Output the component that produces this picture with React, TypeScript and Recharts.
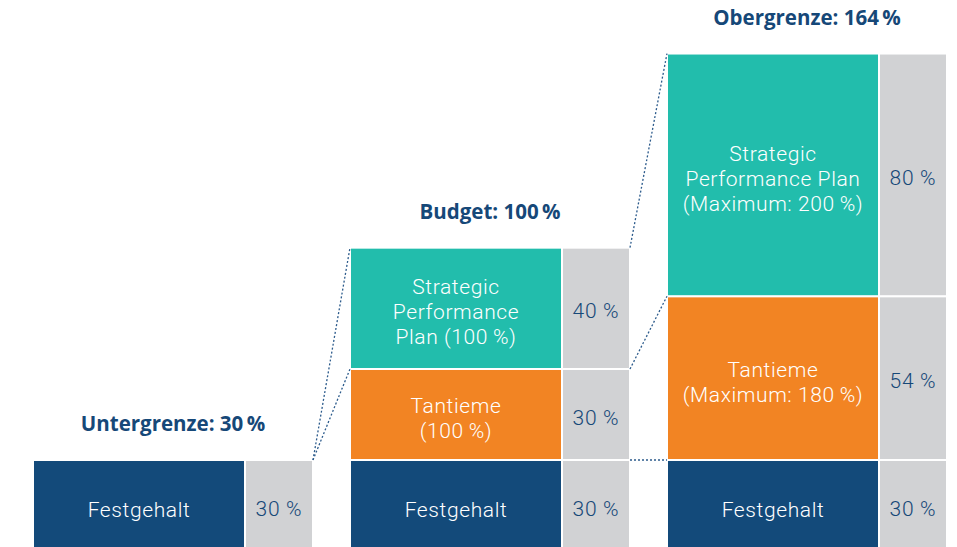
import React from 'react';
import { BarChart, Bar, XAxis, YAxis, LabelList } from 'recharts';

// values in % of target compensation
const groups = ['Untergrenze', 'Budget', 'Obergrenze'];
const titles = ['Untergrenze: 30\u2009%', 'Budget: 100\u2009%', 'Obergrenze: 164\u2009%'];
const festgehalt = [30, 30, 30];
const tantieme = [0, 30, 54];
const spp = [0, 40, 80];
const festLabels = ['Festgehalt', 'Festgehalt', 'Festgehalt'];
const tantiemeLabels = ['', 'Tantieme\n(100\u2009%)', 'Tantieme\n(Maximum: 180\u2009%)'];
const sppLabels = [
  '',
  'Strategic\nPerformance\nPlan (100\u2009%)',
  'Strategic\nPerformance Plan\n(Maximum: 200\u2009%)',
];
// which stack levels get a dotted connector from group i-1 to group i
const connectorLevels = [['Tant', 'Spp'], ['Fest', 'Tant', 'Spp']];

const BLUE = '#134a7a';
const TEAL = '#22bdac';
const ORANGE = '#f28423';
const GREY = '#d1d2d4';
const TEXT_BLUE = '#164878';
const FONT = 'Roboto, sans-serif';
const TITLE_FONT = '"Open Sans", sans-serif';

const data = groups.map((name, i) => ({
  name,
  title: titles[i],
  fest: festgehalt[i],
  tant: tantieme[i],
  spp: spp[i],
  festLabel: festLabels[i],
  tantLabel: tantiemeLabels[i],
  sppLabel: sppLabels[i],
}));

type Box = { x: number; y: number; w: number; h: number };
const boxes: Record<string, Box> = {};

const makeShape = (key: string, fill: string) => (p: any) => {
  boxes[`${key}-${p.index}`] = { x: p.x, y: p.y, w: p.width, h: p.height };
  if (!p.height || p.height <= 0) return <g />;
  return (
    <rect x={p.x} y={p.y} width={p.width} height={p.height} fill={fill} stroke="#fff" strokeWidth={2} />
  );
};

const vb = (props: any) => {
  const v = props.viewBox && props.viewBox.width != null ? props.viewBox : props;
  return { x: +v.x, y: +v.y, width: +v.width, height: +v.height };
};

const multiLine = (props: any) => {
  const { x, y, width, height } = vb(props);
  const value = props.value;
  if (!value || height <= 0) return null;
  const lines = String(value).split('\n');
  const lh = 25;
  const cx = x + width / 2;
  const startY = y + height / 2 + 4 - ((lines.length - 1) * lh) / 2;
  return (
    <text
      textAnchor="middle"
      dominantBaseline="central"
      fill="#fff"
      fontSize={21}
      fontWeight={300}
      letterSpacing={0.6}
      fontFamily={FONT}
    >
      {lines.map((l, i) => (
        <tspan key={i} x={cx} y={startY + i * lh}>
          {l}
        </tspan>
      ))}
    </text>
  );
};

const percentLabel = (props: any) => {
  const { x, y, width, height } = vb(props);
  if (!props.value || height <= 0) return null;
  return (
    <text
      x={x + width / 2}
      y={y + height / 2 + 3}
      textAnchor="middle"
      dominantBaseline="central"
      fill={TEXT_BLUE}
      fontSize={21}
      fontWeight={300}
      letterSpacing={1}
      fontFamily={FONT}
    >
      {`${props.value}\u2009%`}
    </text>
  );
};

const topOf = (key: string, idx: number) => {
  const b = boxes[`${key}-${idx}`];
  return b ? b.y : boxes[`gFest-${idx}`].y;
};

// title above each group plus dotted connectors from the previous group
const titleAndConnectors = (props: any) => {
  const { x, y, width } = vb(props);
  const idx = props.index;
  const col = boxes[`cFest-${idx}`];
  if (!col) return null;
  const right = x + width;
  const top = Math.min(y, topOf('gSpp', idx));
  const lines: any[] = [];
  if (idx > 0) {
    const prev = boxes[`gFest-${idx - 1}`];
    const x1 = prev.x + prev.w;
    (connectorLevels[idx - 1] || []).forEach((lvl) => {
      lines.push(
        <line
          key={lvl}
          x1={x1}
          y1={topOf(`g${lvl}`, idx - 1)}
          x2={col.x}
          y2={topOf(`c${lvl}`, idx)}
          stroke="#2c5b8c"
          strokeWidth={1.3}
          strokeDasharray="2 2"
        />
      );
    });
  }
  return (
    <g>
      {lines}
      <text
        x={(col.x + right) / 2}
        y={top - 37}
        textAnchor="middle"
        dominantBaseline="central"
        fill={TEXT_BLUE}
        fontSize={20.5}
        fontWeight={700}
        fontFamily={TITLE_FONT}
      >
        {props.value}
      </text>
    </g>
  );
};

export default function App() {
  return (
    <div
      style={{
        position: 'fixed',
        left: 0,
        top: 0,
        width: 957,
        height: 547,
        overflow: 'hidden',
        background: '#fff',
      }}
    >
      <BarChart
        width={965}
        height={560}
        data={data}
        margin={{ top: 5, right: 0, bottom: 9, left: 14 }}
        barGap={0}
      >
        <XAxis dataKey="name" hide />
        <YAxis hide domain={[0, 180]} />
        <Bar dataKey="fest" stackId="c" barSize={212} isAnimationActive={false} shape={makeShape('cFest', BLUE)}>
          <LabelList dataKey="festLabel" content={multiLine} />
        </Bar>
        <Bar dataKey="tant" stackId="c" barSize={212} isAnimationActive={false} shape={makeShape('cTant', ORANGE)}>
          <LabelList dataKey="tantLabel" content={multiLine} />
        </Bar>
        <Bar dataKey="spp" stackId="c" barSize={212} isAnimationActive={false} shape={makeShape('cSpp', TEAL)}>
          <LabelList dataKey="sppLabel" content={multiLine} />
        </Bar>
        <Bar dataKey="fest" stackId="g" barSize={68} isAnimationActive={false} shape={makeShape('gFest', GREY)}>
          <LabelList dataKey="fest" content={percentLabel} />
        </Bar>
        <Bar dataKey="tant" stackId="g" barSize={68} isAnimationActive={false} shape={makeShape('gTant', GREY)}>
          <LabelList dataKey="tant" content={percentLabel} />
        </Bar>
        <Bar dataKey="spp" stackId="g" barSize={68} isAnimationActive={false} shape={makeShape('gSpp', GREY)}>
          <LabelList dataKey="spp" content={percentLabel} />
          <LabelList dataKey="title" content={titleAndConnectors} />
        </Bar>
      </BarChart>
    </div>
  );
}
